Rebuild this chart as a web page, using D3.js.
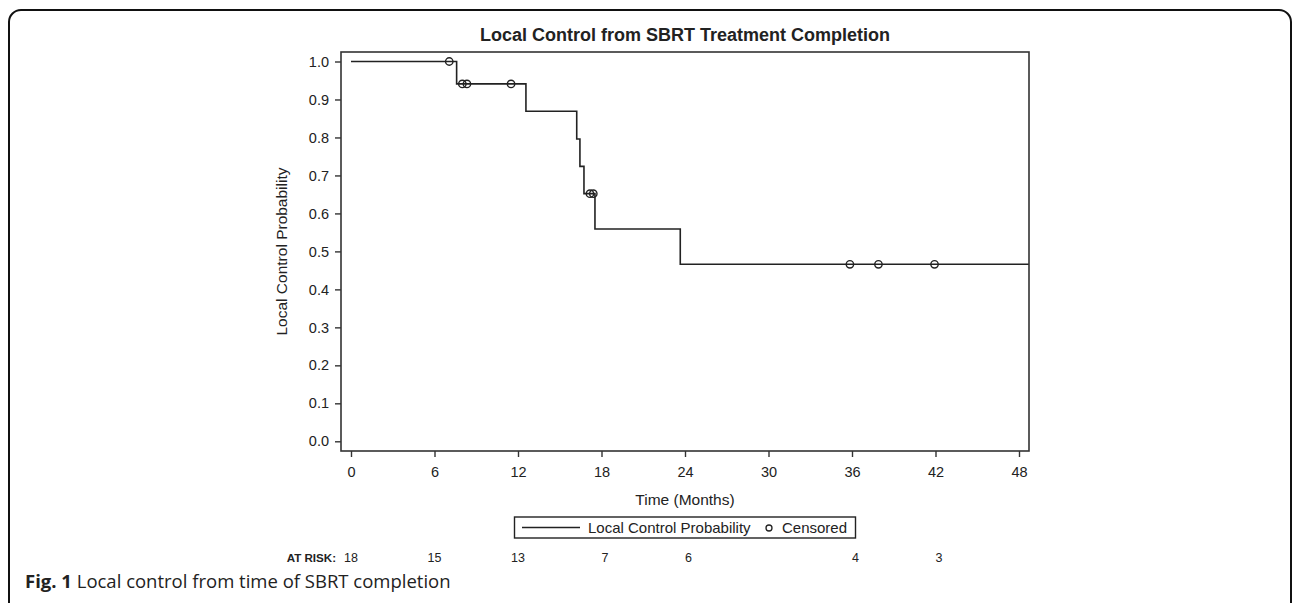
<!DOCTYPE html>
<html>
<head>
<meta charset="utf-8">
<script src="https://cdn.jsdelivr.net/npm/d3@7"></script>
<style>
  body { margin: 0; background: #fff; }
  svg text { font-family: "Liberation Sans", Arial, sans-serif; fill: #222; }
</style>
</head>
<body>
<svg id="chart" width="1292" height="603"></svg>
<script>
// Kaplan-Meier steps
const stepTimes  = [0, 7.59, 12.57, 16.22, 16.45, 16.74, 17.53, 23.66];
const stepValues = [1.0, 0.941, 0.869, 0.796, 0.724, 0.652, 0.559, 0.466];
const endTime = 48.7; // curve runs to the right edge of the frame

// censored marks
const censorTimes  = [7.06, 8.0, 8.33, 11.5, 17.17, 17.41, 35.85, 37.9, 41.93];
const censorValues = [1.0, 0.941, 0.941, 0.941, 0.652, 0.652, 0.466, 0.466, 0.466];

// number at risk row
const atRiskTimes  = [0, 6, 12, 18, 24, 36, 42];
const atRiskCounts = [18, 15, 13, 7, 6, 4, 3];

const xTicks = [0, 6, 12, 18, 24, 30, 36, 42, 48];
const yTicks = [0, 0.1, 0.2, 0.3, 0.4, 0.5, 0.6, 0.7, 0.8, 0.9, 1.0];

const svg = d3.select("#chart");

// outer rounded panel border
svg.append("rect")
    .attr("x", 9).attr("y", 10)
    .attr("width", 1282).attr("height", 640)
    .attr("rx", 12).attr("ry", 12)
    .attr("fill", "none")
    .attr("stroke", "#111")
    .attr("stroke-width", 2);

const frame = {left: 341, right: 1029, top: 52, bottom: 451};

const x = d3.scaleLinear().domain([0, 48]).range([351, 1019]);
const y = d3.scaleLinear().domain([0, 1]).range([441.3, 61.5]);

// title
svg.append("text")
    .attr("x", (frame.left + frame.right) / 2)
    .attr("y", 41)
    .attr("text-anchor", "middle")
    .style("font-size", "18px")
    .style("font-weight", "bold")
    .text("Local Control from SBRT Treatment Completion");

// axes
const xAxis = d3.axisBottom(x).tickValues(xTicks).tickSize(6).tickPadding(10)
    .tickFormat(d3.format("d"));
const gx = svg.append("g")
    .attr("transform", `translate(0,${frame.bottom})`)
    .call(xAxis);
gx.select(".domain").remove();

const yAxis = d3.axisLeft(y).tickValues(yTicks).tickSize(6).tickPadding(6)
    .tickFormat(d3.format(".1f"));
const gy = svg.append("g")
    .attr("transform", `translate(${frame.left},0)`)
    .call(yAxis);
gy.select(".domain").remove();

svg.selectAll(".tick line").attr("stroke", "#333").attr("stroke-width", 1.4);
svg.selectAll(".tick text").style("font-size", "14.5px").attr("fill", "#222");

// plot frame
svg.append("rect")
    .attr("x", frame.left).attr("y", frame.top)
    .attr("width", frame.right - frame.left)
    .attr("height", frame.bottom - frame.top)
    .attr("fill", "none")
    .attr("stroke", "#333")
    .attr("stroke-width", 1.6);

// axis labels
svg.append("text")
    .attr("x", (frame.left + frame.right) / 2)
    .attr("y", 505)
    .attr("text-anchor", "middle")
    .style("font-size", "15.5px")
    .text("Time (Months)");

svg.append("text")
    .attr("transform", `translate(287,${(frame.top + frame.bottom) / 2}) rotate(-90)`)
    .attr("text-anchor", "middle")
    .style("font-size", "15.5px")
    .text("Local Control Probability");

// survival curve
const pts = stepTimes.map((t, i) => [t, stepValues[i]]);
pts.push([endTime, stepValues[stepValues.length - 1]]);

const line = d3.line()
    .x(d => x(d[0]))
    .y(d => y(d[1]))
    .curve(d3.curveStepAfter);

svg.append("path")
    .datum(pts)
    .attr("d", line)
    .attr("fill", "none")
    .attr("stroke", "#222")
    .attr("stroke-width", 1.6);

svg.selectAll(".censor")
    .data(censorTimes)
    .enter().append("circle")
    .attr("class", "censor")
    .attr("cx", d => x(d))
    .attr("cy", (d, i) => y(censorValues[i]))
    .attr("r", 3.7)
    .attr("fill", "none")
    .attr("stroke", "#222")
    .attr("stroke-width", 1.4);

// legend
const leg = svg.append("g");
leg.append("rect")
    .attr("x", 514.5).attr("y", 517)
    .attr("width", 341).attr("height", 21)
    .attr("fill", "none")
    .attr("stroke", "#222")
    .attr("stroke-width", 1.4);
leg.append("line")
    .attr("x1", 522).attr("x2", 580)
    .attr("y1", 527.5).attr("y2", 527.5)
    .attr("stroke", "#222").attr("stroke-width", 1.4);
leg.append("text")
    .attr("x", 588).attr("y", 533)
    .style("font-size", "15px")
    .text("Local Control Probability");
leg.append("circle")
    .attr("cx", 769).attr("cy", 528)
    .attr("r", 3)
    .attr("fill", "none").attr("stroke", "#222").attr("stroke-width", 1.3);
leg.append("text")
    .attr("x", 782).attr("y", 533)
    .style("font-size", "15px")
    .text("Censored");

// at risk row
svg.append("text")
    .attr("x", 336).attr("y", 562)
    .attr("text-anchor", "end")
    .style("font-size", "11.6px")
    .style("font-weight", "bold")
    .text("AT RISK:");

svg.selectAll(".risk")
    .data(atRiskTimes)
    .enter().append("text")
    .attr("class", "risk")
    .attr("x", d => x(d) + 7)
    .attr("y", 562)
    .attr("text-anchor", "end")
    .style("font-size", "12.5px")
    .text((d, i) => atRiskCounts[i]);

// caption
const cap = svg.append("text")
    .attr("x", 25).attr("y", 588)
    .style("font-family", "'Open Sans', sans-serif")
    .style("font-size", "18.5px");
cap.append("tspan").style("font-weight", "bold").text("Fig. 1");
cap.append("tspan").text(" Local control from time of SBRT completion");
</script>
</body>
</html>
